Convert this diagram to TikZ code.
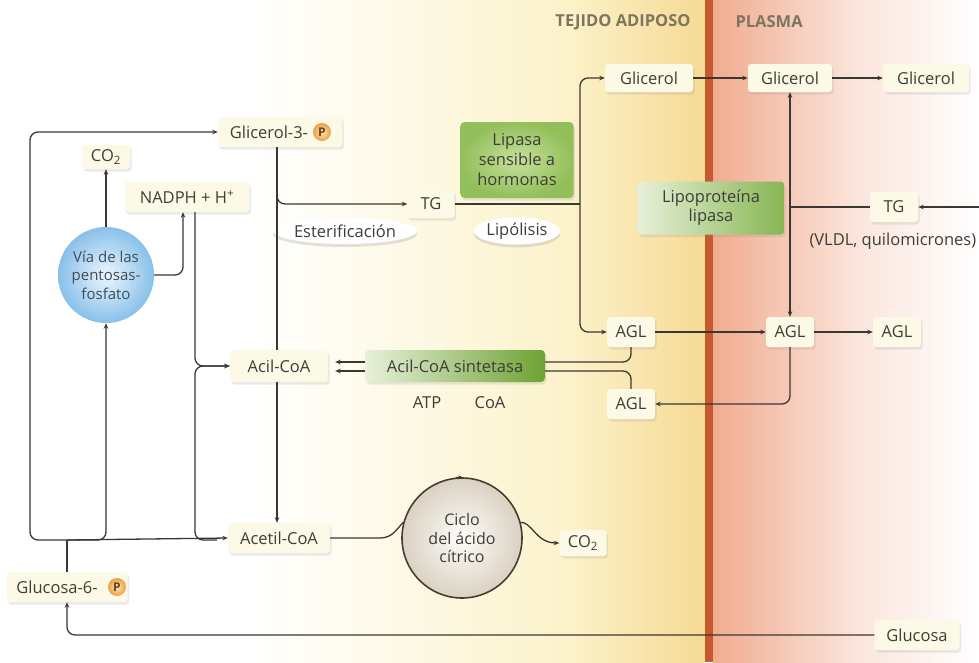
\documentclass[tikz,border=0pt]{standalone}
\usepackage{fontspec}
\setmainfont{Open Sans}
\usetikzlibrary{arrows.meta,shadows,shapes.geometric,calc}
\definecolor{txt}{HTML}{3E3E38}
\definecolor{lc}{HTML}{3B3834}
\definecolor{boxc}{HTML}{FCFAE6}
\definecolor{hdrc}{HTML}{7E7560}
\definecolor{yel1}{HTML}{FCF3CC}
\definecolor{yel2}{HTML}{F6DA94}
\definecolor{redl}{HTML}{C65A2E}
\definecolor{sal1}{HTML}{F1AC90}
\definecolor{sal2}{HTML}{FBE6DD}
\definecolor{gin}{HTML}{C6E09C}
\definecolor{gout}{HTML}{93BF5A}
\definecolor{glight}{HTML}{E8F0DA}
\definecolor{gdark}{HTML}{86B651}
\definecolor{sdark}{HTML}{6EA233}
\definecolor{blin}{HTML}{EDF7FD}
\definecolor{blout}{HTML}{88C0EA}
\definecolor{bltxt}{HTML}{3E4C5C}
\definecolor{krin}{HTML}{FEFDFA}
\definecolor{krout}{HTML}{DAD1C2}
\definecolor{krb}{HTML}{4A3D30}
\definecolor{pin}{HTML}{FDE5B5}
\definecolor{pout}{HTML}{EBA048}
\definecolor{ptxt}{HTML}{6A4020}
\begin{document}
\begin{tikzpicture}[x=1pt,y=-1pt,
  >={Stealth[length=5.5pt,width=4.5pt]},
  base/.style={font=\fontsize{16.5}{19}\selectfont, text=txt, align=center},
  shad/.style={drop shadow={opacity=0.16, shadow xshift=1.5pt, shadow yshift=-2.5pt}},
  box/.style={base, fill=boxc, rounded corners=3pt, inner sep=0pt, shad},
  greenbox/.style={base, rounded corners=4pt, inner sep=0pt, shad},
  oval/.style={base, ellipse, fill=white, inner sep=0pt, drop shadow={opacity=0.22, shadow xshift=0pt, shadow yshift=-3pt}},
  pc/.style={circle, inner sep=0pt, minimum size=18pt, inner color=pin, outer color=pout, font=\fontsize{12}{12}\selectfont\bfseries, text=ptxt},
  hdr/.style={font=\fontsize{16.5}{18}\selectfont\bfseries, text=hdrc},
  conn/.style={draw=lc, line width=1.3pt, rounded corners=8pt},
  arr/.style={conn, ->}]
\useasboundingbox (0,0) rectangle (979,662);
% background
\fill[white] (0,0) rectangle (979,662);
\shade[left color=white, right color=yel1] (250,0) rectangle (560,662);
\shade[left color=yel1, right color=yel2] (560,0) rectangle (705,662);
\shade[left color=sal1, right color=sal2] (713,0) rectangle (860,662);
\shade[left color=sal2, right color=white] (860,0) rectangle (979,662);
\fill[redl] (705,0) rectangle (713,662);

% headers
\node[hdr] (hta) at (623,22) {TEJIDO ADIPOSO};
\node[hdr, anchor=west] (hpl) at (732,22) {PLASMA};

% nodes
\node[box, minimum width=124pt, minimum height=30pt] (gp) at (280,132) {Glicerol-3-\hspace{22pt}};
\node[pc] (gpP) at (322,132) {P};
\node[box, minimum width=48pt, minimum height=24pt] (co2a) at (106,157) {CO\textsubscript{2}};
\node[box, minimum width=125pt, minimum height=30pt] (nadph) at (187,197) {NADPH + H\textsuperscript{+}};
\node[base, circle, minimum size=96pt, inner sep=0pt, inner color=blin, outer color=blout, text=bltxt, font=\fontsize{15}{18.5}\selectfont] (pent) at (106,275) {Vía de las\\pentosas-\\fosfato};
\node[box, minimum width=47pt, minimum height=28pt] (tg) at (431,204) {TG};
\node[greenbox, minimum width=113pt, minimum height=76pt, inner color=gin, outer color=gout, font=\fontsize{16.5}{20}\selectfont] (lsh) at (517,160) {Lipasa\\sensible a\\hormonas};
\node[oval, minimum width=112pt, minimum height=26pt] (ester) at (345,231) {Esterificación};
\node[oval, minimum width=74pt, minimum height=27pt] (lipol) at (517,231) {Lipólisis};
\node[box, minimum width=88pt, minimum height=28pt] (gl1) at (649,78) {Glicerol};
\node[box, minimum width=84pt, minimum height=28pt] (gl2) at (790,78) {Glicerol};
\node[box, minimum width=86pt, minimum height=28pt] (gl3) at (926,78) {Glicerol};
\node[greenbox, minimum width=147pt, minimum height=53pt, left color=glight, right color=gdark] (lpl) at (711,208) {Lipoproteína\\lipasa};
\node[box, minimum width=48pt, minimum height=30pt] (tgp) at (894,207) {TG};
\node[base, anchor=west] (vldl) at (806,241) {(VLDL, quilomicrones)};
\node[box, minimum width=48pt, minimum height=30pt] (agl1) at (631,332) {AGL};
\node[box, minimum width=48pt, minimum height=30pt] (agl2) at (790,332) {AGL};
\node[box, minimum width=48pt, minimum height=30pt] (agl3) at (897,332) {AGL};
\node[box, minimum width=48pt, minimum height=30pt] (agl4) at (631,404) {AGL};
\node[box, minimum width=98pt, minimum height=32pt] (acil) at (279,366) {Acil-CoA};
\node[greenbox, minimum width=180pt, minimum height=32pt, left color=glight, right color=sdark] (sint) at (455,366) {Acil-CoA sintetasa};
\node[base] (atp) at (427,403) {ATP};
\node[base] (coa) at (490,403) {CoA};
\node[box, minimum width=102pt, minimum height=30pt] (acet) at (279,538) {Acetil-CoA};
\node[base, circle, minimum size=120pt, inner sep=0pt, draw=krb, line width=1.6pt, inner color=krin, outer color=krout, font=\fontsize{16}{18.5}\selectfont] (krebs) at (462,538) {Ciclo\\del ácido\\cítrico};
\node[box, minimum width=47pt, minimum height=26pt] (co2b) at (583,543) {CO\textsubscript{2}};
\node[box, minimum width=121pt, minimum height=30pt] (g6p) at (67,587) {Glucosa-6-\hspace{20pt}};
\node[pc] (g6pP) at (117,587) {P};
\node[box, minimum width=85pt, minimum height=30pt] (glu) at (917,635) {Glucosa};

% junctions
\coordinate (jG) at (67,540);
\coordinate (jLft) at (30,540);
\coordinate (jR) at (106,540);
\coordinate (jAs) at (217,540);
\coordinate (jA) at (195,540);
\coordinate (jEs) at (277,188);
\coordinate (jEc) at (277,204);
\coordinate (jL) at (580,204);
\coordinate (jP) at (790,207);
\coordinate (rin) at (985,207);
\coordinate (kIn) at (372,538);

% connectors left
\draw[conn] (g6p.north) -- (jG);
\draw[arr] (jG) -- (jLft) |- (gp.west);
\draw[arr] (jG) -- (jR) -- (pent.south);
\draw[arr] (jG) -- (acet.west);
\draw[arr] (jAs) -- (jA) |- (acil.west);
\draw[arr] ([xshift=8pt]nadph.south) |- (acil.west);
\draw[arr] (pent.north) -- (co2a.south);
\draw[arr] (pent.east) -| ([xshift=-4pt]nadph.south);

% glycerol-3-P / esterification
\draw[conn] ([xshift=-3pt]gp.south) -- ([xshift=-2pt]acil.north);
\draw[arr] (jEs) -- (jEc) -- (tg.west);
\draw[arr] ([xshift=-2pt]acil.south) -- ([xshift=-2pt]acet.north);

% lipolysis
\draw[conn] (tg.east) -- (jL);
\draw[arr] (jL) |- (gl1.west);
\draw[arr] (jL) |- (agl1.west);
\draw[arr] (gl1) -- (gl2);
\draw[arr] (gl2) -- (gl3);

% plasma TG
\draw[arr] (rin) -- (tgp.east);
\draw[conn] (tgp.west) -- (jP);
\draw[arr] (jP) -- (gl2.south);
\draw[arr] (jP) -- (agl2.north);

% AGL
\draw[arr] (agl1) -- (agl2);
\draw[arr] (agl2) -- (agl3);
\draw[arr] (agl2.south) |- (agl4.east);
\draw[conn] (agl1.south) |- ([yshift=4pt]sint.east);
\draw[conn] ([yshift=-5pt]sint.east) -| (agl4.north);
\draw[arr, shorten >=7pt] ([yshift=4pt]sint.west) -- ([yshift=4pt]acil.east);
\draw[arr, shorten >=7pt] ([yshift=-5pt]sint.west) -- ([yshift=-5pt]acil.east);

% Krebs
\draw[conn] (acet.east) -- (kIn) .. controls (392,538) and (396,530) .. (krebs.165);
\draw[arr] (krebs.15) .. controls (532,522) and (536,543) .. (co2b.west);
\draw[draw=lc, line width=1pt, -{Stealth[length=5pt,width=4pt]}] (krebs.96) -- (krebs.89);

% glucose
\draw[arr] (glu.west) -| (g6p.south);
\end{tikzpicture}
\end{document}
